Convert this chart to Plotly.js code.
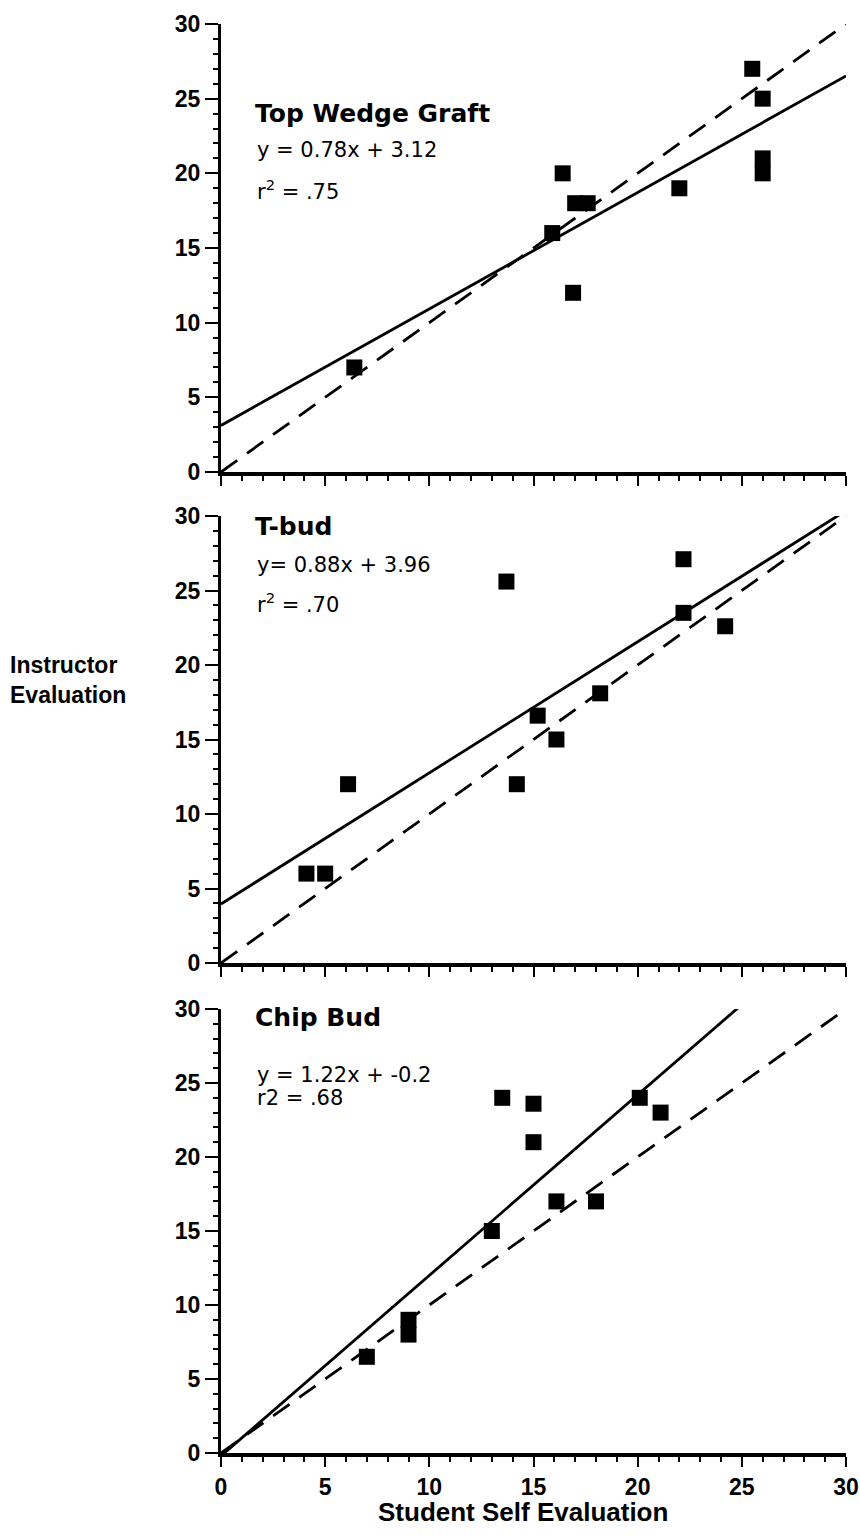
<!DOCTYPE html>
<html>
<head>
<meta charset="utf-8">
<script src="https://cdn.plot.ly/plotly-3.0.1.min.js"></script>
<style>html,body{margin:0;padding:0;background:#fff;}#chart{width:860px;height:1536px;}</style>
</head>
<body>
<div id="chart"></div>
<script>
// ---- data ----
const panelNames = ["Top Wedge Graft", "T-bud", "Chip Bud"];
const equationTexts = ["y = 0.78x + 3.12", "y= 0.88x + 3.96", "y = 1.22x + -0.2"];
const r2Texts = ["r<sup>2</sup> = .75", "r<sup>2</sup> = .70", "r2 = .68"];

const topX = [6.4, 15.9, 16.4, 16.9, 17.0, 17.6, 22.0, 25.5, 26.0, 26.0, 26.0];
const topY = [7, 16, 20, 12, 18, 18, 19, 27, 25, 21, 20];

const midX = [4.1, 5.0, 6.1, 13.7, 14.2, 15.2, 16.1, 18.2, 22.2, 22.2, 24.2];
const midY = [6, 6, 12, 25.6, 12, 16.6, 15, 18.1, 27.1, 23.5, 22.6];

const botX = [7.0, 9.0, 9.0, 13.0, 13.5, 15.0, 15.0, 16.1, 18.0, 20.1, 21.1];
const botY = [6.5, 8, 9, 15, 24, 23.6, 21, 17, 17, 24, 23];

const slopes = [0.78, 0.88, 1.22];
const intercepts = [3.12, 3.96, -0.2];
const lineX = [0, 30];          // fitted lines span the axis
const identityY = [0, 30];      // dashed y = x reference line
const tickVals = [0, 5, 10, 15, 20, 25, 30];
const xTitle = "Student Self Evaluation";
const yTitle = "Instructor<br>Evaluation";

// ---- layout helpers ----
const W = 860, H = 1536;
const MR = 14;
const PW = W - MR;
const py = v => 1 - v / H;
const xDomain = [221 / PW, 1];
const yDomains = [[py(472), py(24)], [py(963), py(516)], [py(1453), py(1009)]];
const tickFont = {family: "Liberation Sans Narrow, Liberation Sans, Arial, sans-serif", size: 23, color: "#000", weight: 700};

const xsets = [topX, midX, botX];
const ysets = [topY, midY, botY];
const traces = [];
for (let i = 0; i < 3; i++) {
  const xa = i === 0 ? "x" : "x" + (i + 1);
  const ya = i === 0 ? "y" : "y" + (i + 1);
  traces.push({x: lineX, y: identityY, mode: "lines", xaxis: xa, yaxis: ya,
    line: {color: "#000", width: 2.8, dash: "20px,12px"}, hoverinfo: "skip"});
  traces.push({x: lineX, y: lineX.map(v => slopes[i] * v + intercepts[i]), mode: "lines", xaxis: xa, yaxis: ya,
    line: {color: "#000", width: 2.8}, hoverinfo: "skip"});
  traces.push({x: xsets[i], y: ysets[i], mode: "markers", xaxis: xa, yaxis: ya,
    marker: {symbol: "square", size: 16, color: "#000"}, cliponaxis: false});
}

function xAxis(i) {
  return {
    domain: xDomain, range: [0, 30], anchor: i === 0 ? "y" : "y" + (i + 1),
    showline: true, linewidth: 4, linecolor: "#000", showgrid: false, zeroline: false,
    ticks: "outside", ticklen: 10, tickwidth: 2, tickcolor: "#000",
    tickmode: "array", tickvals: tickVals, ticktext: tickVals.map(String),
    showticklabels: i === 2, tickfont: tickFont, ticklabeloverflow: "allow",
    minor: {dtick: 1, ticks: "outside", ticklen: 5, tickwidth: 2, tickcolor: "#000", showgrid: false},
    fixedrange: true
  };
}
function yAxis(i) {
  return {
    domain: yDomains[i], range: [0, 30], anchor: i === 0 ? "x" : "x" + (i + 1),
    showline: true, linewidth: 3, linecolor: "#000", showgrid: false, zeroline: false,
    ticks: "outside", ticklen: 13, tickwidth: 2, tickcolor: "#000",
    tickmode: "array", tickvals: tickVals, ticktext: tickVals.map(String),
    tickfont: tickFont,
    minor: {dtick: 1, ticks: "outside", ticklen: 5, tickwidth: 2, tickcolor: "#000", showgrid: false},
    fixedrange: true
  };
}

const titleY = [113, 527, 1017];
const eqY = [150, 565, 1075];
const r2Y = [190, 603, 1098];
const annotations = [];
for (let i = 0; i < 3; i++) {
  annotations.push({text: panelNames[i], xref: "paper", yref: "paper", x: 253 / PW, y: py(titleY[i]),
    xanchor: "left", yanchor: "middle", showarrow: false,
    font: {family: "DejaVu Sans, sans-serif", size: 25, color: "#000", weight: 700}});
  annotations.push({text: equationTexts[i], xref: "paper", yref: "paper", x: 255 / PW, y: py(eqY[i]),
    xanchor: "left", yanchor: "middle", showarrow: false,
    font: {family: "DejaVu Sans, sans-serif", size: 21, color: "#000"}});
  annotations.push({text: r2Texts[i], xref: "paper", yref: "paper", x: 255 / PW, y: py(r2Y[i]),
    xanchor: "left", yanchor: "middle", showarrow: false,
    font: {family: "DejaVu Sans, sans-serif", size: 21, color: "#000"}});
}
annotations.push({text: yTitle, xref: "paper", yref: "paper", x: 8 / PW, y: py(680),
  xanchor: "left", yanchor: "middle", align: "left", showarrow: false,
  font: {family: "Liberation Sans, Arial, sans-serif", size: 23, color: "#000", weight: 700}});
annotations.push({text: xTitle, xref: "paper", yref: "paper", x: 523 / PW, y: py(1512),
  xanchor: "center", yanchor: "middle", showarrow: false,
  font: {family: "Liberation Sans Narrow, Liberation Sans, Arial, sans-serif", size: 26, color: "#000", weight: 700}});

const layout = {
  width: W, height: H, margin: {l: 0, r: MR, t: 0, b: 0},
  paper_bgcolor: "#fff", plot_bgcolor: "#fff", showlegend: false,
  xaxis: xAxis(0), xaxis2: xAxis(1), xaxis3: xAxis(2),
  yaxis: yAxis(0), yaxis2: yAxis(1), yaxis3: yAxis(2),
  annotations: annotations
};

Plotly.newPlot("chart", traces, layout, {displayModeBar: false, staticPlot: true});
</script>
</body>
</html>
